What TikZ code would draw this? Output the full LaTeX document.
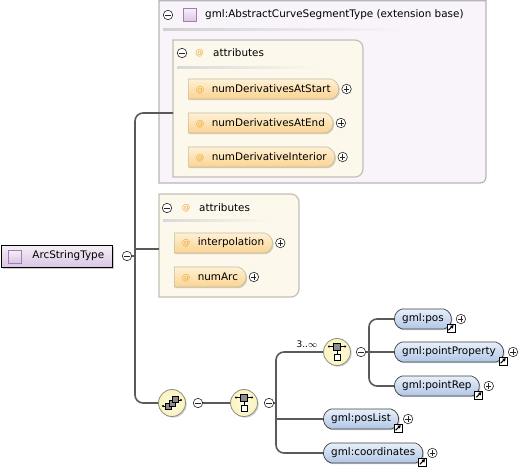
\documentclass[tikz,border=0pt]{standalone}
\usepackage{fontspec}
\setmainfont{DejaVu Sans}
\usetikzlibrary{positioning, shapes.misc, shadows, calc, arrows.meta}

\definecolor{connclr}{HTML}{5A5A5A}
\definecolor{basefill}{HTML}{F8F4FA}
\definecolor{basedraw}{HTML}{B8B4BC}
\definecolor{grpfill}{HTML}{FDF8EC}
\definecolor{grpdraw}{HTML}{C4BFB6}
\definecolor{attop}{HTML}{FEF1D6}
\definecolor{atbot}{HTML}{FBD390}
\definecolor{atdraw}{HTML}{C9BBA0}
\definecolor{atsign}{HTML}{F0A838}
\definecolor{eltop}{HTML}{E8F0FA}
\definecolor{elbot}{HTML}{B0C6E6}
\definecolor{typetop}{HTML}{F6F0F8}
\definecolor{typebot}{HTML}{D9C6E2}
\definecolor{typedraw}{HTML}{A27CB4}
\definecolor{compfill}{HTML}{FAF3BC}

\newcommand{\atsym}{\textcolor{atsign}{\fontsize{8.5}{10}\selectfont @}}

\begin{document}
\begin{tikzpicture}[x=1pt, y=-1pt, font=\fontsize{10.4}{12}\selectfont,
  conn/.style={draw=connclr, line width=1.6pt},
  pm/.style={circle, draw=black!85, fill=white, minimum size=9.5pt, inner sep=0pt, line width=.6pt},
  minus/.style={pm, path picture={\draw[line width=.7pt] ([xshift=-2.6pt]path picture bounding box.center) -- ([xshift=2.6pt]path picture bounding box.center);}},
  plus/.style={pm, path picture={\draw[line width=.7pt] ([xshift=-2.6pt]path picture bounding box.center) -- ([xshift=2.6pt]path picture bounding box.center) ([yshift=-2.6pt]path picture bounding box.center) -- ([yshift=2.6pt]path picture bounding box.center);}},
  typesq/.style={draw=typedraw, top color=typetop, bottom color=typebot, minimum size=13pt, inner sep=0pt, line width=.6pt},
  rootbox/.style={draw=black, line width=.8pt, top color=typetop, bottom color=typebot, minimum height=22pt, inner xsep=8pt, inner ysep=0pt, anchor=west, drop shadow={shadow xshift=1.5pt, shadow yshift=-1.5pt, fill=black!40}},
  attpill/.style={rounded rectangle, rounded rectangle west arc=none, rounded rectangle arc length=150, draw=atdraw, top color=attop, bottom color=atbot, minimum height=20pt, inner xsep=7pt, inner ysep=0pt, anchor=west, line width=.6pt, drop shadow={shadow xshift=1.2pt, shadow yshift=-1.2pt, fill=black!35}},
  elpill/.style={rounded rectangle, rounded rectangle arc length=150, draw=black!75, top color=eltop, bottom color=elbot, minimum height=20pt, inner xsep=6.5pt, inner ysep=0pt, anchor=west, line width=.7pt, drop shadow={shadow xshift=1.2pt, shadow yshift=-1.2pt, fill=black!35}},
  refbox/.style={draw=black, fill=white, minimum size=8pt, inner sep=0pt, line width=.6pt, path picture={\draw[line width=1.1pt, -{Triangle[length=3pt, width=3.6pt]}] ([shift={(1.6pt,1.6pt)}]path picture bounding box.south west) -- ([shift={(-1.3pt,-1.3pt)}]path picture bounding box.north east);}},
  comp/.style={circle, draw=black!45, inner color=compfill!40, outer color=compfill, minimum size=27pt, inner sep=0pt, line width=.8pt, drop shadow={shadow xshift=1.2pt, shadow yshift=-1.2pt, fill=black!35}},
  grpbox/.style={draw=grpdraw, fill=grpfill, line width=1.2pt},
  basebox/.style={draw=basedraw, fill=basefill, line width=1.2pt},
  lbl/.style={anchor=west, inner sep=0pt}]

\useasboundingbox (0,0) rectangle (524,469);

% extension base
\draw[basebox] (159,0.8) -- (486,0.8) -- (486,177) arc[start angle=0, end angle=90, radius=6] -- (159,183) -- cycle;
\node[minus] (basemin) at (168,15) {};
\node[typesq] (basesq) at (189.5,15) {};
\node[lbl] (baselbl) at (205,15) {gml:AbstractCurveSegmentType (extension base)};
\fill[left color=black!18, right color=basefill] (163,28.5) rectangle (405,30);

% inherited attributes
\draw[grpbox] (173,40) -- (355,40) arc[start angle=-90, end angle=0, radius=8] -- (363,169) arc[start angle=0, end angle=90, radius=8] -- (173,177) -- cycle;
\coordinate (grpa) at (173,113);
\node[minus] (grpamin) at (182,53) {};
\node (grpaat) at (199.5,53) {\atsym};
\node[lbl] (grpalbl) at (213,53) {attributes};
\fill[left color=black!15, right color=grpfill] (177,66.5) rectangle (320,68);

\node[attpill] (dstart) at (188,89) {\hspace{0.5pt}\atsym\hspace{7.5pt}numDerivativesAtStart};
\node[plus, right=2.5pt of dstart.east] (dstartp) {};
\node[attpill] (dend) at (188,123) {\hspace{0.5pt}\atsym\hspace{7.5pt}numDerivativesAtEnd};
\node[plus, right=2.5pt of dend.east] (dendp) {};
\node[attpill] (dinter) at (188,157) {\hspace{0.5pt}\atsym\hspace{7.5pt}numDerivativeInterior};
\node[plus, right=2.5pt of dinter.east] (dinterp) {};

% own attributes
\draw[grpbox] (159,194) -- (291,194) arc[start angle=-90, end angle=0, radius=8] -- (299,289) arc[start angle=0, end angle=90, radius=8] -- (159,297) -- cycle;
\coordinate (grpb) at (159,249);
\node[minus] (grpbmin) at (167,208) {};
\node (grpbat) at (186,208) {\atsym};
\node[lbl] (grpblbl) at (199,208) {attributes};
\fill[left color=black!15, right color=grpfill] (163,219.5) rectangle (270,221);

\node[attpill] (interp) at (174,243) {\hspace{0.5pt}\atsym\hspace{7.5pt}interpolation};
\node[plus, right=2.5pt of interp.east] (interpp) {};
\node[attpill] (numarc) at (174,277) {\hspace{0.5pt}\atsym\hspace{7.5pt}numArc};
\node[plus, right=2.5pt of numarc.east] (numarcp) {};

% root type
\node[rootbox] (root) at (1,256) {\hspace{23pt}ArcStringType};
\node[typesq] (rootsq) at (15,256.5) {};
\node[minus] (rootmin) at (127,256) {};

% content model
\node[comp] (seq) at (172,403) {};
\node[minus] (seqmin) at (198,403) {};
\node[comp] (chc1) at (244,403) {};
\node[minus] (chc1min) at (269,403) {};
\node[comp] (chc2) at (337,352) {};
\node[minus] (chc2min) at (361,352) {};
\node[font=\fontsize{9}{10}\selectfont] (occ) at (307,344) {3..$\infty$};

\draw[line width=.7pt] ($(seq)+(-9,3)$) -- ($(seq)+(-4,3)$) ($(seq)+(4,-3)$) -- ($(seq)+(9,-3)$);
\fill ($(seq)+(-9,3)$) circle[radius=1.1] ($(seq)+(9,-3)$) circle[radius=1.1];
\foreach \d in {-3.5,0,3.5}
  \draw[fill=black!45, line width=.6pt] ($(seq)+({\d-3},{-\d-3})$) rectangle ($(seq)+({\d+3},{-\d+3})$);

\foreach \c in {chc1, chc2}{
  \draw[line width=.7pt] ($(\c)+(-8,-5.5)$) -- ($(\c)+(8,-5.5)$);
  \fill ($(\c)+(-8,-5.5)$) circle[radius=1.1] ($(\c)+(8,-5.5)$) circle[radius=1.1];
  \draw[line width=.7pt] ($(\c)+(0,-5.5)$) -- ($(\c)+(0,2)$);
  \draw[fill=black!45, line width=.6pt] ($(\c)+(-3.5,-9)$) rectangle ($(\c)+(3.5,-2)$);
  \draw[fill=white, line width=.6pt] ($(\c)+(-3.2,1.8)$) rectangle ($(\c)+(3.2,8.2)$);
}

\node[elpill] (pos) at (394,319) {gml:pos};
\node[elpill] (ptprop) at (394,352) {gml:pointProperty};
\node[elpill] (ptrep) at (394,386) {gml:pointRep};
\node[elpill] (poslist) at (323,419) {gml:posList};
\node[elpill] (coords) at (323,453) {gml:coordinates};
\foreach \e in {pos, ptprop, ptrep, poslist, coords}{
  \node[refbox] (\e ref) at ($(\e.east |- \e.south)+(-1,-1.5)$) {};
  \node[plus, right=4pt of \e.east] (\e plus) {};
}

% connectors
\coordinate (trunk) at (135,256);
\coordinate (br1) at (276,403);
\coordinate (br2) at (369,352);
\draw[conn, rounded corners=8] (grpa) -| (trunk) |- (seq.west);
\draw[conn] (rootmin) -- (trunk);
\draw[conn] (grpb -| trunk) -- (grpb);
\draw[conn] (seqmin) -- (chc1);
\draw[conn] (chc1min) -- (br1);
\draw[conn, rounded corners=8] (br1) |- (chc2.west);
\draw[conn] (br1 |- poslist) -- (poslist.west);
\draw[conn, rounded corners=8] (br1) |- (coords.west);
\draw[conn] (chc2min) -- (br2);
\draw[conn, rounded corners=8] (br2) |- (pos.west);
\draw[conn] (br2) -- (ptprop.west);
\draw[conn, rounded corners=8] (br2) |- (ptrep.west);

\end{tikzpicture}
\end{document}
